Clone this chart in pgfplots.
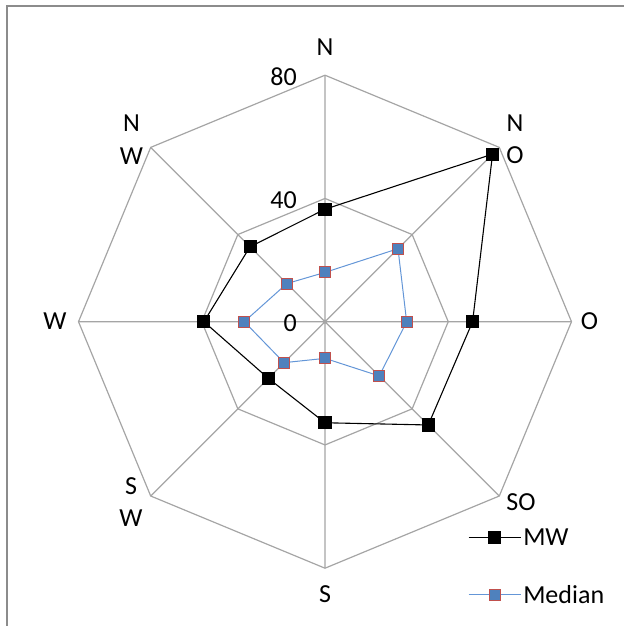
\documentclass[border=0pt]{standalone}
\usepackage{fontspec}
\setmainfont{Carlito}
\usepackage{pgfplots}
\pgfplotsset{compat=1.18}
\usepgfplotslibrary{polar}
\definecolor{gridgray}{RGB}{165,165,165}
\definecolor{framegray}{RGB}{140,140,140}
\definecolor{medfill}{RGB}{79,129,189}
\definecolor{medborder}{RGB}{192,80,77}
\definecolor{medline}{RGB}{100,150,215}
\begin{document}
\begin{tikzpicture}[x=1pt,y=1pt]
\useasboundingbox (0,0) rectangle (624,626);
\draw[framegray,line width=2pt] (7,0) -- (7,619.5) -- (624,619.5);
\begin{polaraxis}[
  at={(325pt,304.3pt)}, anchor=origin,
  width=493pt, height=493pt, scale only axis,
  xmin=0, xmax=360, ymin=0, ymax=80,
  hide axis, clip=false,
  legend style={draw=none, fill=none, at={(0.79,0.003)}, anchor=west,
    inner sep=0pt, row sep=34pt,
    font=\fontsize{26}{30}\selectfont},
  legend cell align=left,
  legend image code/.code={\draw[mark repeat=2,mark phase=2,#1] plot coordinates {(0pt,0pt)(26pt,0pt)(52pt,0pt)};},
]
% grid octagons and spokes
\addplot[gridgray, line width=1.2pt, forget plot] coordinates {(90,80) (45,80) (0,80) (-45,80) (-90,80) (-135,80) (180,80) (135,80) (90,80)};
\addplot[gridgray, line width=1.2pt, forget plot] coordinates {(90,40) (45,40) (0,40) (-45,40) (-90,40) (-135,40) (180,40) (135,40) (90,40)};
\addplot[gridgray, line width=1.2pt, forget plot] coordinates {(90,80) (90,0) (45,80) (45,0) (0,80) (0,0) (-45,80) (-45,0) (-90,80) (-90,0) (-135,80) (-135,0) (180,80) (180,0) (135,80) (135,0)};
% MW
\addplot[black, line width=1.1pt, mark=square*, mark size=6pt, mark options={fill=black, draw=black}] coordinates {(90,36.5) (45,76.9) (0,47.9) (-45,47.4) (-90,32.8) (-135,26) (180,39.3) (135,34.4) (90,36.5)};
\addlegendentry{MW}
% Median
\addplot[medline, line width=1pt, mark=square*, mark size=5.5pt, mark options={fill=medfill, draw=medborder, line width=1pt}] coordinates {(90,16) (45,33.5) (0,26.5) (-45,24.9) (-90,11.9) (-135,18.8) (180,26.2) (135,17.5) (90,16)};
\addlegendentry{Median}
\end{polaraxis}
\begin{scope}[every node/.style={font=\fontsize{26}{32.5}\selectfont, inner sep=0pt, align=center}]
\node at (325,579) {N};
\node at (515,486.7) {N\\O};
\node at (589.5,305) {O};
\node at (521,124) {SO};
\node at (325,31.5) {S};
\node at (131,123.7) {S\\W};
\node at (55,305) {W};
\node at (131.5,486.5) {N\\W};
\node[anchor=east] at (297,549) {80};
\node[anchor=east] at (297,426) {40};
\node[anchor=east] at (297,303) {0};
\end{scope}
\end{tikzpicture}
\end{document}
